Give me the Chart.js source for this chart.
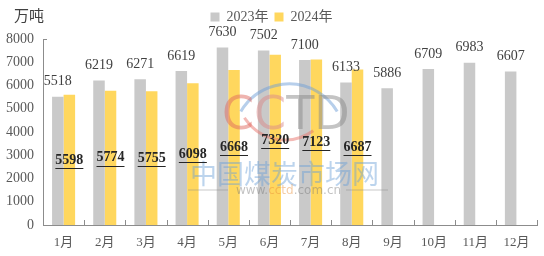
<!DOCTYPE html>
<html>
<head>
<meta charset="utf-8">
<script src="https://cdn.jsdelivr.net/npm/chart.js@4"></script>
<style>
  html, body { margin:0; padding:0; background:#fff; }
  #wrap { width:544px; height:256px; position:relative; }
</style>
</head>
<body>
<div id="wrap"><canvas id="chart"></canvas></div>
<script>
// --- data ---
const months = ['1月','2月','3月','4月','5月','6月','7月','8月','9月','10月','11月','12月'];
const seriesNames = ['2023年', '2024年'];
const values2023 = [5518, 6219, 6271, 6619, 7630, 7502, 7100, 6133, 5886, 6709, 6983, 6607];
const values2024 = [5598, 5774, 5755, 6098, 6668, 7320, 7123, 6687, null, null, null, null];
const yTicks = [0, 1000, 2000, 3000, 4000, 5000, 6000, 7000, 8000];
const unitLabel = '万吨';

const SERIF = "'Liberation Serif', 'Noto Sans CJK SC', serif";
const GRAY = '#C9C9C9';
const GOLD = '#FFD75E';

// push the plot down a little below the legend
const legendGap = {
    id: 'legendGap',
    beforeInit(chart) {
        const fit = chart.legend.fit;
        chart.legend.fit = function() {
            fit.bind(chart.legend)();
            this.height += 5;
        };
    }
};

// value labels + unit + small x ticks
const labelPlugin = {
    id: 'labels',
    afterDatasetsDraw(chart) {
        const ctx = chart.ctx;
        const area = chart.chartArea;
        const xs = chart.scales.x;

        // watermark (faint)
        ctx.save();
        ctx.globalAlpha = 0.5;
        ctx.lineWidth = 3;
        ctx.strokeStyle = '#6f9fd8';
        ctx.beginPath();
        ctx.arc(289, 140, 56, 1.17 * Math.PI, 1.83 * Math.PI);
        ctx.stroke();
        ctx.strokeStyle = '#e8746b';
        ctx.beginPath();
        ctx.arc(285, 92, 48, 0.3 * Math.PI, 0.82 * Math.PI);
        ctx.stroke();
        ctx.font = "46px 'DejaVu Sans'";
        ctx.textBaseline = 'alphabetic';
        ctx.textAlign = 'left';
        const letters = [['C', '#e06a60'], ['C', '#d98a8a'], ['T', '#8a8a8a'], ['D', '#8a8a8a']];
        let lx = 222;
        letters.forEach(([ch, col]) => {
            ctx.fillStyle = col;
            ctx.fillText(ch, lx, 129);
            lx += ctx.measureText(ch).width;
        });
        ctx.globalAlpha = 0.45;
        ctx.fillStyle = '#6a9fd8';
        ctx.font = "27px 'Noto Sans CJK SC'";
        ctx.textBaseline = 'middle';
        ctx.fillText('中国煤炭市场网', 190, 174);
        ctx.font = "12px 'DejaVu Sans'";
        let wx = 236;
        [['www.', '#777'], ['cctd', '#e8913a'], ['.com.cn', '#777']].forEach(([t, c]) => {
            ctx.fillStyle = c;
            ctx.fillText(t, wx, 191);
            wx += ctx.measureText(t).width;
        });
        ctx.strokeStyle = '#888';
        ctx.lineWidth = 1;
        ctx.beginPath();
        ctx.moveTo(188, 190); ctx.lineTo(228, 190);
        ctx.moveTo(346, 190); ctx.lineTo(388, 190);
        ctx.stroke();
        ctx.restore();

        // 2023 labels above bars
        ctx.save();
        ctx.font = '14px ' + SERIF;
        ctx.fillStyle = '#404040';
        ctx.textAlign = 'center';
        ctx.textBaseline = 'middle';
        chart.getDatasetMeta(0).data.forEach((bar, i) => {
            const v = values2023[i];
            if (v == null) return;
            ctx.fillText(String(v), bar.x, bar.y - 15);
        });

        // 2024 labels in the middle, bold + underline
        ctx.font = 'bold 14px ' + SERIF;
        ctx.fillStyle = '#262626';
        ctx.strokeStyle = '#262626';
        ctx.lineWidth = 1;
        chart.getDatasetMeta(1).data.forEach((bar, i) => {
            const v = values2024[i];
            if (v == null) return;
            const y = (bar.y + bar.base) / 2;
            const t = String(v);
            ctx.fillText(t, bar.x, y);
            const w = ctx.measureText(t).width;
            ctx.beginPath();
            ctx.moveTo(bar.x - w / 2, Math.round(y + 8) + 0.5);
            ctx.lineTo(bar.x + w / 2, Math.round(y + 8) + 0.5);
            ctx.stroke();
        });
        ctx.restore();

        // small tick marks standing on the x axis between categories
        ctx.save();
        ctx.strokeStyle = '#8c8c8c';
        ctx.lineWidth = 1;
        const step = (xs.right - xs.left) / months.length;
        ctx.beginPath();
        for (let i = 1; i <= months.length; i++) {
            const x = Math.round(xs.left + i * step) + 0.5;
            ctx.moveTo(x, area.bottom);
            ctx.lineTo(x, area.bottom - 5);
        }
        // little tick at the top of the y axis
        ctx.moveTo(area.left, Math.round(area.top) + 0.5);
        ctx.lineTo(area.left + 4, Math.round(area.top) + 0.5);
        ctx.stroke();
        ctx.restore();

        // unit
        ctx.save();
        ctx.font = "15px 'Noto Sans CJK SC'";
        ctx.fillStyle = '#404040';
        ctx.textAlign = 'left';
        ctx.textBaseline = 'middle';
        ctx.fillText(unitLabel, 14, 15);
        ctx.restore();
    }
};

new Chart(document.getElementById('chart'), {
    type: 'bar',
    data: {
        labels: months,
        datasets: [
            { label: seriesNames[0], data: values2023, backgroundColor: GRAY },
            { label: seriesNames[1], data: values2024, backgroundColor: GOLD }
        ]
    },
    options: {
        responsive: true,
        maintainAspectRatio: false,
        animation: false,
        layout: { padding: { left: 6, right: 7, top: 4, bottom: 0 } },
        datasets: { bar: { categoryPercentage: 0.56, barPercentage: 1.0 } },
        scales: {
            x: {
                afterFit: (s) => { s.height = 31; },
                grid: { display: false, drawTicks: false },
                border: { display: true, color: '#8c8c8c', width: 1 },
                ticks: { color: '#595959', font: { size: 13, family: SERIF }, padding: 10 }
            },
            y: {
                min: 0, max: 8000,
                afterFit: (s) => { s.width = 37; },
                afterBuildTicks: (s) => { s.ticks = yTicks.map(v => ({ value: v })); },
                grid: { display: false, drawTicks: false },
                border: { display: true, color: '#8c8c8c', width: 1 },
                ticks: {
                    color: '#595959', font: { size: 14, family: SERIF }, padding: 9,
                    callback: (v) => String(v)
                }
            }
        },
        plugins: {
            legend: {
                display: true,
                position: 'top',
                labels: {
                    boxWidth: 9, boxHeight: 9, padding: 6,
                    color: '#595959',
                    font: { size: 14, family: SERIF }
                }
            },
            tooltip: { enabled: false }
        }
    },
    plugins: [legendGap, labelPlugin]
});
</script>
</body>
</html>
